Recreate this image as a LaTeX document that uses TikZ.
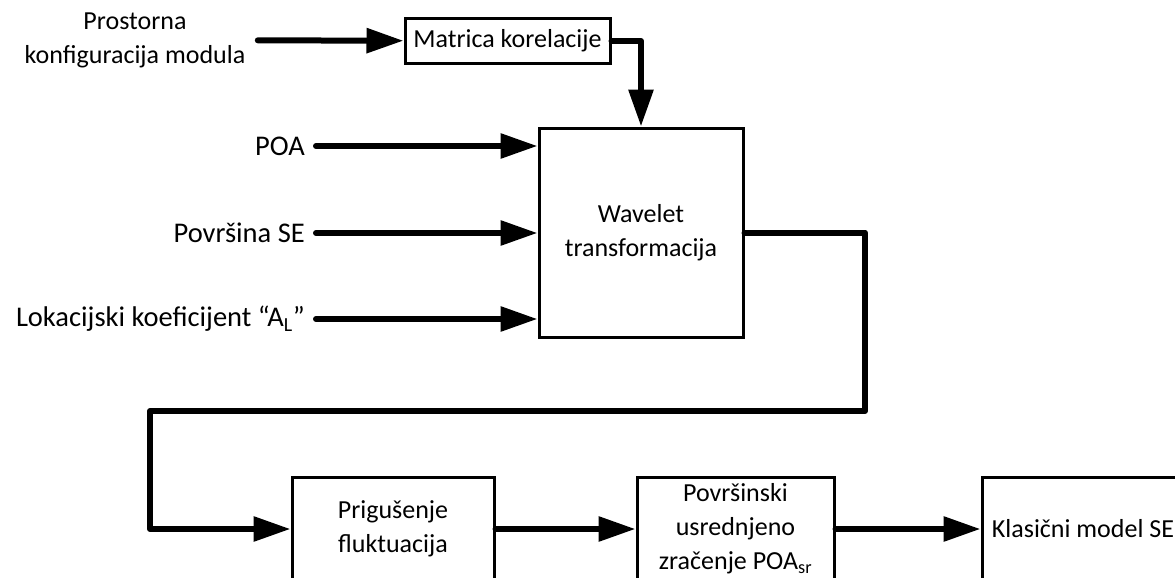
\documentclass[tikz,border=0pt]{standalone}
\usepackage{fontspec}
\setmainfont{Carlito}
\usetikzlibrary{arrows.meta}

\begin{document}
\begin{tikzpicture}[
x=1pt, y=-1pt,
every node/.style={
font=\fontsize{26}{34}\selectfont,
align=center
},
label/.style={
anchor=east,
inner xsep=11pt,
font=\fontsize{28.5}{34}\selectfont
},
block/.style={
draw,
line width=3pt,
inner sep=0pt
},
flow/.style={
line width=6pt,
line cap=round,
line join=round,
-{Triangle[length=37pt,width=24pt]}
}
]

\useasboundingbox (0,0) rectangle (1175,578);

\node (konf)
at (135,40)
{Prostorna\\konfiguracija modula};

\node[block, minimum width=205pt, minimum height=45pt] (mat)
at (507.5,41)
{Matrica korelacije};

\node[block, minimum width=204pt, minimum height=209pt] (wav)
at (641,232.5)
{Wavelet\\transformacija};

\node[label] (poa)
at (316,146)
{POA};

\node[label] (povrsina)
at (316,233)
{Površina SE};

\node[label] (lok)
at (316,319)
{Lokacijski koeficijent “A\textsubscript{L}”};

\node[block, minimum width=202pt, minimum height=104pt] (pri)
at (393,529)
{Prigušenje\\fluktuacija};

\node[block, minimum width=197pt, minimum height=104pt] (usr)
at (735.5,529)
{Površinski\\usrednjeno\\zračenje POA\textsubscript{sr}};

\node[block, minimum width=202pt, minimum height=104pt] (klas)
at (1083,529)
{Klasični model SE};

\coordinate (desno) at (865,411);
\coordinate (lijevo) at (150,529);

\draw[flow, shorten <=9pt] (konf) -- (mat);
\draw[flow] (mat.east) -| (wav.north);

\draw[flow] (poa) -- (wav.west |- poa);
\draw[flow] (povrsina) -- (wav.west |- povrsina);
\draw[flow] (lok) -- (wav.west |- lok);

\draw[flow] (wav.east) -| (desno) -| (lijevo) -- (pri.west);
\draw[flow] (pri.east) -- (usr.west);
\draw[flow] (usr.east) -- (klas.west);

\end{tikzpicture}
\end{document}
